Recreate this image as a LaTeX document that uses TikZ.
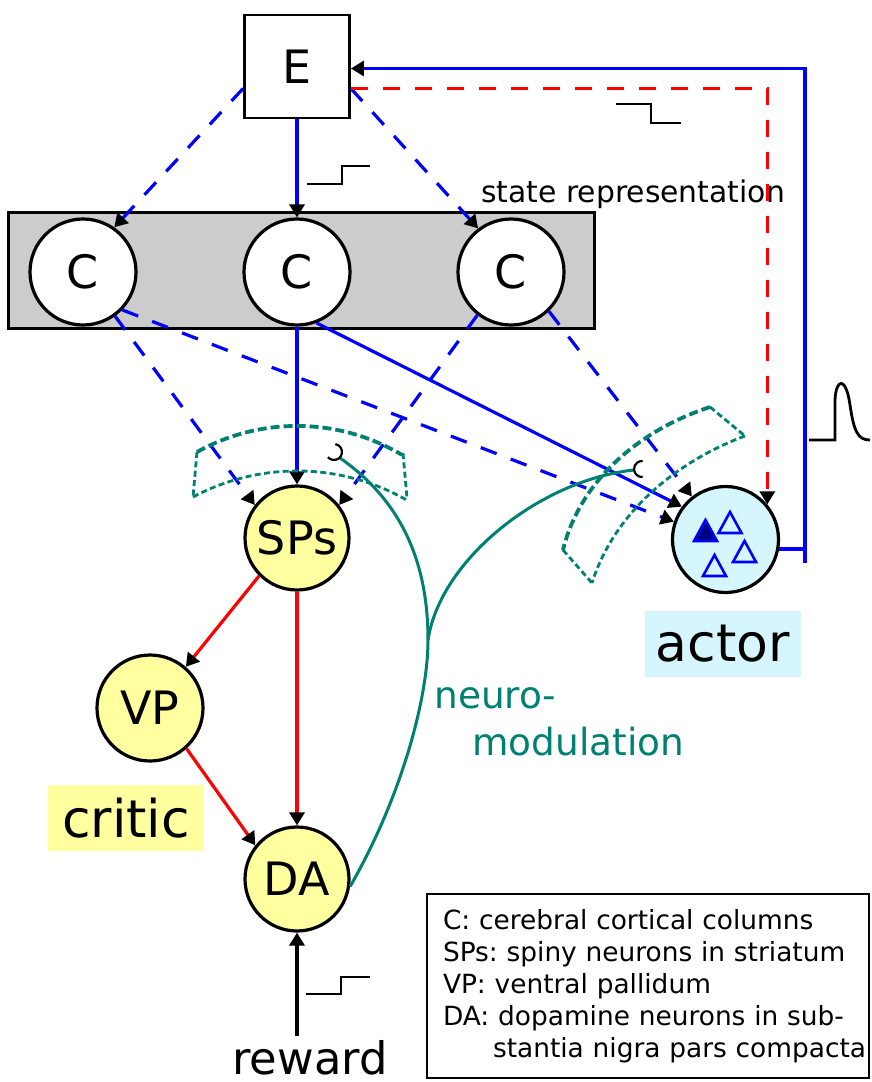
\documentclass[tikz,border=0pt]{standalone}
\usepackage{fontspec}
\setmainfont{DejaVu Sans}
\usetikzlibrary{arrows.meta,positioning}

\definecolor{modteal}{RGB}{0,128,112}
\definecolor{critfill}{RGB}{255,255,160}
\definecolor{actfill}{RGB}{213,246,252}
\definecolor{cortexgray}{RGB}{204,204,204}
\definecolor{navyblue}{RGB}{0,0,128}

\tikzset{
    %Define style for neuron circles
    cell/.style={
           circle,
           draw=black, line width=1.6pt,
           minimum size=52pt,
           inner sep=0pt,
           font=\fontsize{23}{27}\selectfont},
    %Define style for the environment box
    envbox/.style={
           rectangle,
           draw=black, line width=1.4pt,
           fill=white,
           minimum width=52.5pt, minimum height=51.5pt,
           font=\fontsize{23}{27}\selectfont},
    % Define style for the cortex strip
    cortexbox/.style={
           rectangle,
           draw=black, line width=1.5pt,
           fill=cortexgray,
           minimum width=293pt, minimum height=58pt},
    % Define style for the critic and actor tags
    tag/.style={
           rectangle,
           inner sep=0pt,
           minimum width=78pt, minimum height=33pt,
           font=\fontsize{26}{30}\selectfont},
    % Define style for the legend
    legendbox/.style={
           rectangle,
           draw=black, line width=1.2pt,
           inner xsep=8pt, inner ysep=0pt,
           text width=205pt, minimum height=92pt,
           align=left,
           font=\fontsize{13.2}{16}\selectfont\frenchspacing},
    % Define arrow style
    fwd/.style={-{Triangle[color=black,length=6.5pt,width=7.5pt]}},
    wire/.style={blue, line width=1.6pt},
    dashwire/.style={wire, dash pattern=on 8.5pt off 7.5pt},
    redwire/.style={red, line width=1.6pt},
    % Define style for neuromodulation
    modline/.style={modteal, line width=1.5pt},
    synapse/.style={black, line width=1.1pt},
    zoneout/.style={modteal, line width=1.9pt, dash pattern=on 4.5pt off 2pt},
    zonein/.style={modteal, line width=1.4pt, dash pattern=on 3pt off 1.7pt},
    trace/.style={black, line width=1.4pt}
}
\newcommand*{\cnode}[2]{\node[cell, fill=white, minimum size=53pt] (#1) at (#2) {C};}
\newcommand*{\tri}[3]{\draw[blue, line width=1.3pt, fill=#3] (#1-11.5,#2+10.5) -- (#1,#2-10.5) -- (#1+11.5,#2+10.5) -- cycle;}

\begin{document}
\begin{tikzpicture}[x=0.5pt,y=-0.5pt]
\useasboundingbox (0,0) rectangle (872,1082);

% Environment and cortical state representation
\node[envbox] (env) at (297,66.5) {E};
\node[cortexbox] (cortex) at (301,270) {};
\cnode{col1}{83,272}
\cnode{col2}{297,272}
\cnode{col3}{511,272}
\node[anchor=base west, inner sep=0pt, font=\fontsize{14.9}{18}\selectfont] (statelbl) at (481,202) {state representation};

% Critic (SPs, VP, DA) and actor
\node[cell, fill=critfill] (sp) at (297,538) {SPs};
\node[cell, fill=critfill, minimum size=53pt] (vp) at (150,708) {VP};
\node[cell, fill=critfill] (da) at (297,879) {DA};
\node[cell, fill=actfill, minimum size=53pt] (act) at (725.5,539.5) {};
\tri{705.5}{530.5}{navyblue}
\tri{730}{522.5}{actfill}
\tri{744.5}{551.5}{actfill}
\tri{714.5}{565.5}{actfill}

\node[tag, fill=critfill] (criticlbl) at (126,818) {critic};
\node[tag, fill=actfill] (actorlbl) at (723,644) {actor};
\node[anchor=base, inner sep=0pt, font=\fontsize{22.4}{26}\selectfont] (rew) at (310,1074) {reward};

% Environment to cortex
\draw[wire, fwd] (env.south) -- (col2.north);
\draw[dashwire, fwd] ([yshift=-11pt]env.west) -- (col1.55);
\draw[dashwire, fwd] ([yshift=-11pt]env.east) -- (col3.127);

% Cortex to striatum and actor
\draw[dashwire, fwd] (col1.-54) -- (sp.142);
\draw[dashwire, fwd] (col1.-44) -- (act.161);
\draw[wire, fwd] (col2.south) -- (sp.north);
\draw[wire, fwd] (col2.-69) -- (act.143);
\draw[dashwire, fwd] (col3.-128) -- (sp.38);
\draw[dashwire, fwd] (col3.-46) -- (act.128);

% Critic loop
\draw[redwire, fwd] (sp.-135) -- (vp.49);
\draw[redwire, fwd] (sp.south) -- (da.north);
\draw[redwire, fwd] (vp.-48) -- (da.141);
\draw[black, line width=2.4pt, fwd] ([yshift=2pt]rew.north -| da.south) -- (da.south);

% Actor output back to the environment
\coordinate (fbfoot) at (805,563);
\draw[wire] (act.-10) -- (act.-10 -| fbfoot);
\draw[wire, fwd] (fbfoot) |- ([yshift=-1pt]env.east);
\draw[redwire, dash pattern=on 8.5pt off 7.5pt, fwd] ([yshift=-11pt]env.east) -| (act.40);

% Synaptic zones
\draw[zoneout] (197,452) arc[start angle=-119.2, end angle=-59.2, radius=205];
\draw[zonein] (193,497) arc[start angle=-118.1, end angle=-60.4, radius=221];
\draw[zonein] (197,452) -- (193,497) (403,453) -- (407,498);
\draw[zoneout] (710,407) .. controls (640,430) and (580,480) .. (563,550);
\draw[zonein] (745,436) .. controls (680,460) and (615,510) .. (592,583);
\draw[zonein] (710,407) -- (745,436) (563,550) -- (592,583);

% Neuromodulation from DA
\coordinate (branch) at (428,640);
\coordinate (synsp) at (340,458);
\coordinate (synact) at (634,470);
\draw[modline] (da.-8) .. controls (400,800) and (428,700) .. (branch)
      .. controls (428,560) and (400,500) .. (synsp);
\draw[modline] (branch) .. controls (440,560) and (540,480) .. (synact);
\draw[synapse] ([shift={(-80:8)}]334,452) arc[start angle=-80, end angle=140, radius=8];
\draw[synapse] ([shift={(85:8)}]642,469) arc[start angle=85, end angle=275, radius=8];
\node[anchor=base west, inner sep=0pt, modteal, font=\fontsize{18.7}{23}\selectfont] (neuroA) at (434,708) {neuro-};
\node[anchor=base west, inner sep=0pt, modteal, font=\fontsize{18.7}{23}\selectfont] (neuroB) at ([xshift=19pt,yshift=-23.5pt]neuroA.base west) {modulation};

% Signal traces
\draw[trace] (307,184) -- (342,184) -- (342,166) -- (370,166);
\draw[trace] (306,994) -- (341,994) -- (341,977) -- (370,977);
\draw[trace] (616,104) -- (651,104) -- (651,123) -- (681,123);
\draw[trace] (809,440) -- (835,440) -- (835,400) .. controls (836,378) and (846,376) .. (850,405)
      .. controls (854,432) and (858,440) .. (870,440);

% Legend
\node[legendbox] (legend) at (648,986) {C: cerebral cortical columns\\
SPs: spiny neurons in striatum\\
VP: ventral pallidum\\
DA: dopamine neurons in sub-\\
\mbox{\hspace*{25pt}stantia nigra pars compacta}};
\end{tikzpicture}
\end{document}
